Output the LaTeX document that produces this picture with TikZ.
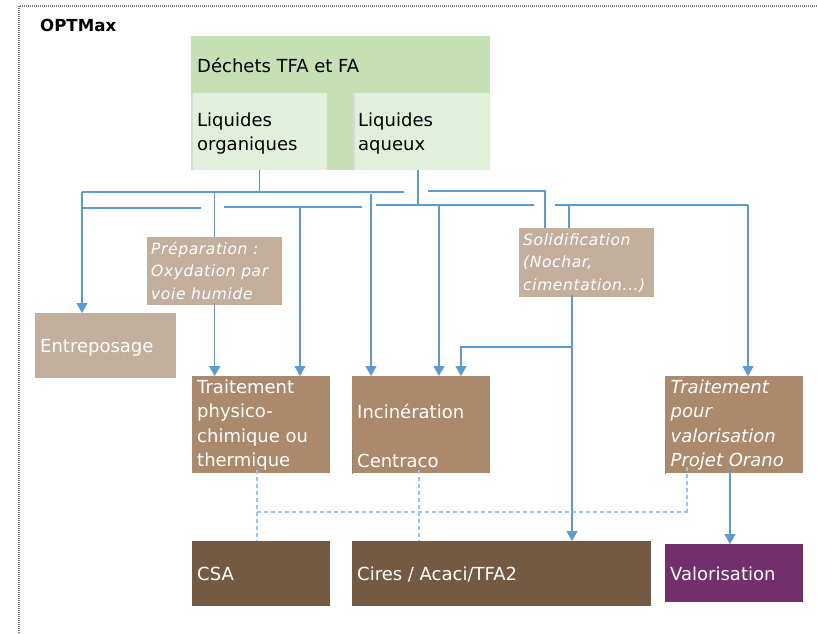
\documentclass[tikz,border=0pt]{standalone}
\usepackage{fontspec}
\setmainfont{DejaVu Sans}
\newfontfamily\smallitfont[LetterSpace=4]{DejaVu Sans}
\usetikzlibrary{arrows.meta}

\definecolor{gdark}{HTML}{C5E0B4}
\definecolor{glight}{HTML}{E2EFDA}
\definecolor{bLight}{HTML}{C4AE9C}
\definecolor{bMid}{HTML}{AA896C}
\definecolor{bDark}{HTML}{745A42}
\definecolor{plum}{HTML}{722F6B}
\definecolor{lineblue}{HTML}{5B9BD5}
\definecolor{dashblue}{HTML}{9DC3E6}
\definecolor{framegray}{HTML}{7A7A7A}

% multi-line text whose reference point is the first baseline
\newcommand\stack[1]{\begin{tabular}[t]{@{}l@{}}#1\end{tabular}}

\tikzset{
  box/.style={rectangle, draw=none, inner sep=0pt, anchor=north west},
  txt/.style={inner sep=0pt, anchor=base west, text=white,
              font=\fontsize{18}{24.5}\selectfont},
  darktxt/.style={txt, text=black},
  smalltxt/.style={txt, font=\smallitfont\itshape\fontsize{15.5}{22.6}\selectfont},
  conn/.style={draw=lineblue, line width=1.2pt},
  arr/.style={conn, -{Triangle[width=11pt,length=10pt]}},
  dashlink/.style={draw=dashblue, line width=1.2pt, dash pattern=on 4pt off 3pt},
  edge/.style={draw=black!15, line width=1.6pt},
  handle/.style={draw=gray, line width=1.2pt, dash pattern=on 0.8pt off 0.8pt},
}

\begin{document}
\begin{tikzpicture}[x=1pt,y=-1pt]
\useasboundingbox (0,0) rectangle (817,633);

% page frame
\draw[framegray, line width=2pt, dash pattern=on 1pt off 1pt] (817,6) -- (19,6) -- (19,633);

\node[darktxt, font=\bfseries\fontsize{16.6}{19}\selectfont] (title) at (40,31) {OPTMax};

% source wastes
\node[box, fill=gdark, minimum width=299pt, minimum height=134pt] (dechets) at (191,36) {};
\node[box, fill=glight, minimum width=136pt, minimum height=77pt] (liqorg) at (191,93) {};
\node[box, fill=glight, minimum width=137pt, minimum height=77pt] (liqaq) at (353,93) {};
\draw[edge] ([xshift=0.8pt]liqorg.north west) -- ([xshift=0.8pt]liqorg.south west);
\draw[edge] ([xshift=0.8pt]liqaq.north west) -- ([xshift=0.8pt]liqaq.south west);
\node[darktxt] (tdech) at (197,72.3) {Déchets TFA et FA};
\node[darktxt, font=\fontsize{18}{24}\selectfont] (tliqorg) at (197,126.7) {\stack{Liquides\\organiques}};
\node[darktxt, font=\fontsize{18}{24}\selectfont] (tliqaq) at (358,126.7) {\stack{Liquides\\aqueux}};

% intermediate steps
\node[box, fill=bLight, minimum width=135pt, minimum height=68pt] (prep) at (147,237) {};
\node[smalltxt] (tprep) at (151,254) {\stack{Préparation :\\Oxydation par\\voie humide}};
\node[box, fill=bLight, minimum width=135pt, minimum height=69pt] (solid) at (519,228) {};
\node[smalltxt, font=\smallitfont\itshape\fontsize{15.5}{22.8}\selectfont] (tsolid) at (523,245) {\stack{Solidification\\(Nochar,\\cimentation...)}};
\node[box, fill=bLight, minimum width=141pt, minimum height=65pt] (entre) at (35,313) {};
\node[txt] (tentre) at (40,352.3) {Entreposage};

% treatments
\node[box, fill=bMid, minimum width=138pt, minimum height=97pt] (trphys) at (192,376) {};
\node[txt] (ttrphys) at (197,393) {\stack{Traitement\\physico-\\chimique ou\\thermique}};
\node[box, fill=bMid, minimum width=138pt, minimum height=97pt] (incin) at (352,376) {};
\node[txt] (tincin) at (357,418.3) {\stack{Incinération\\ \\Centraco}};
\node[box, fill=bMid, minimum width=138pt, minimum height=97pt] (trval) at (665,376) {};
\node[txt, font=\itshape\fontsize{18}{24.5}\selectfont] (ttrval) at (670.5,393) {\stack{Traitement\\pour\\valorisation\\Projet Orano}};
\draw[handle] ([xshift=0.6pt]incin.south west) -- ++(0,-31);
\draw[handle] ([xshift=0.6pt]trval.south west) -- ++(0,-31);

% final outlets
\node[box, fill=bDark, minimum width=138pt, minimum height=65pt] (csa) at (192,541) {};
\node[txt] (tcsa) at (197,580) {CSA};
\node[box, fill=bDark, minimum width=299pt, minimum height=65pt] (cires) at (352,541) {};
\node[txt] (tcires) at (357,580) {Cires / Acaci/TFA2};
\node[box, fill=plum, minimum width=138pt, minimum height=58pt] (valo) at (665,544) {};
\node[txt] (tvalo) at (670,580) {Valorisation};

% branches from the organic liquids
\coordinate (barAw) at (82,192);
\coordinate (barAe) at (404,192);
\draw[conn] (liqorg.south) -- (liqorg.south |- barAw);
\draw[conn] (barAw) -- (barAe);
\draw[arr] (barAw) -- (barAw |- entre.north);
\coordinate (stubA) at (82,208);
\coordinate (stubAe) at (201,208);
\draw[conn] (stubA) -- (stubAe);
\draw[conn] (prep.north |- barAw) -- (prep.north);
\draw[arr] ([yshift=2pt]prep.south) -- (prep.south |- trphys.north);
\coordinate (barBw) at (224,207);
\coordinate (barBe) at (362,207);
\draw[conn] (barBw) -- (barBe);
\coordinate (dropB) at (300,207);
\draw[arr] (dropB) -- (dropB |- trphys.north);
\coordinate (dropC) at (371,194);
\draw[arr] (dropC) -- (dropC |- incin.north);

% branches from the aqueous liquids
\coordinate (jB) at (418,205);
\draw[conn] (jB |- liqaq.south) -- (jB);
\coordinate (barCw) at (376,205);
\coordinate (barCe) at (534,205);
\draw[conn] (barCw) -- (barCe);
\coordinate (dropD) at (439,205);
\draw[arr] (dropD) -- (dropD |- incin.north);
\coordinate (barDw) at (428,191);
\coordinate (barDe) at (545,191);
\draw[conn] (barDw) -- (barDe) -- (barDe |- solid.north);
\coordinate (barEw) at (555,205);
\coordinate (barEe) at (748,205);
\draw[conn] (barEw) -- (barEe);
\draw[arr] (barEe) -- (barEe |- trval.north);
\coordinate (dropE) at (569,205);
\draw[conn] (dropE) -- (dropE |- solid.north);

% from solidification
\coordinate (sdrop) at (572,347);
\coordinate (sinc) at (461,347);
\draw[arr] ([yshift=2pt]sdrop |- solid.south) -- (sdrop |- cires.north);
\draw[arr] (sdrop) -- (sinc) -- (sinc |- incin.north);

% towards valorisation
\coordinate (vdrop) at (730,500);
\draw[arr] ([yshift=3pt]vdrop |- trval.south) -- (vdrop |- valo.north);

% dashed links to the disposal sites
\coordinate (dA) at (257,512);
\coordinate (dB) at (689,512);
\coordinate (dC) at (419,512);
\coordinate (dD) at (687,512);
\draw[dashlink] ([yshift=3pt]dA |- trphys.south) -- (dA |- csa.north);
\draw[dashlink] (dA) -- (dB);
\draw[dashlink] ([yshift=3pt]dC |- incin.south) -- (dC |- cires.north);
\draw[dashlink] ([yshift=6pt]dD |- trval.south) -- (dD);
\end{tikzpicture}
\end{document}
